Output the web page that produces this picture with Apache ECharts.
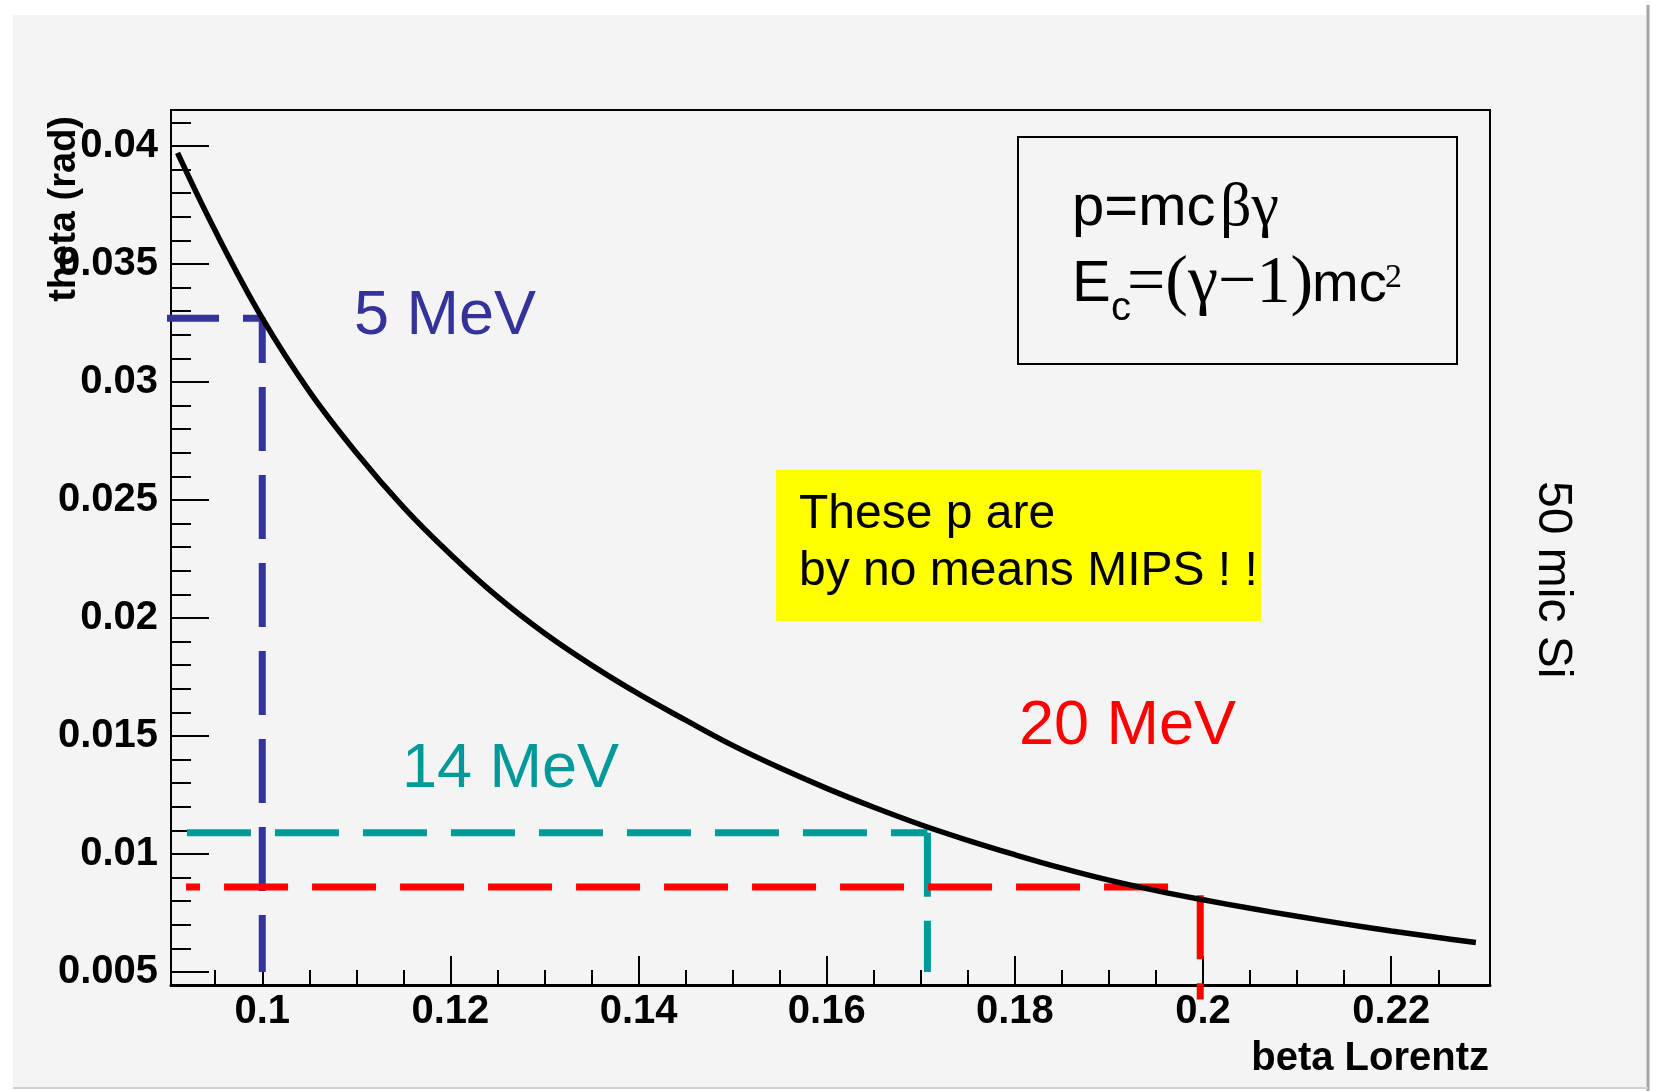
<!DOCTYPE html>
<html>
<head>
<meta charset="utf-8">
<title>theta vs beta Lorentz</title>
<script src="https://cdn.jsdelivr.net/npm/echarts@6/dist/echarts.min.js"></script>
<style>
  html, body { margin: 0; padding: 0; background: #fff; }
  #chart { width: 1658px; height: 1091px; }
</style>
</head>
<body>
<div id="chart"></div>
<script>
// scattering angle of protons in 50 mic Si
const beta = [0.091, 0.095, 0.1, 0.105, 0.11, 0.115, 0.12, 0.125, 0.13, 0.135,
  0.14, 0.145, 0.15, 0.155, 0.16, 0.165, 0.17, 0.175, 0.18, 0.185,
  0.19, 0.195, 0.2, 0.205, 0.21, 0.215, 0.22, 0.225, 0.229];
const theta = [0.0397, 0.0364, 0.0327, 0.0296, 0.0270, 0.0247, 0.0227, 0.0209, 0.01935, 0.0180,
  0.01678, 0.01567, 0.0146, 0.01365, 0.01278, 0.01198, 0.01124, 0.01058, 0.00997, 0.0094,
  0.00889, 0.00845, 0.00806, 0.0077, 0.00736, 0.00704, 0.00674, 0.00646, 0.00625];

// guide lines for the three energies
const guide5 = [[0.0886, 0.0327], [0.1, 0.0327], [0.1, 0.005]];
const guide14H = [[0.0920, 0.0109], [0.1707, 0.0109]];
const guide14V = [[0.1707, 0.0109], [0.1707, 0.005]];
const guide20H = [[0.0919, 0.0086], [0.1963, 0.0086]];
const guide20V = [[0.1997, 0.00825], [0.1997, 0.00384]];

// ticks
const xMajor = [0.1, 0.12, 0.14, 0.16, 0.18, 0.2, 0.22];
const xMinor = [0.095, 0.105, 0.11, 0.115, 0.125, 0.13, 0.135, 0.145, 0.15, 0.155,
  0.165, 0.17, 0.175, 0.185, 0.19, 0.195, 0.205, 0.21, 0.215, 0.225];
const yMajor = [0.005, 0.01, 0.015, 0.02, 0.025, 0.03, 0.035, 0.04];
const yMinor = [0.006, 0.007, 0.008, 0.009, 0.011, 0.012, 0.013, 0.014, 0.016, 0.017,
  0.018, 0.019, 0.021, 0.022, 0.023, 0.024, 0.026, 0.027, 0.028, 0.029,
  0.031, 0.032, 0.033, 0.034, 0.036, 0.037, 0.038, 0.039, 0.041];

const xMin = 0.0903, xMax = 0.2305;
const yMin = 0.00445, yMax = 0.04152;

const sans = 'Liberation Sans';
const serif = 'Liberation Serif';
const tickFont = { color: '#000', fontSize: 40, fontWeight: 'bold', fontFamily: sans };

const guide = (data, color, offset) => ({
  type: 'line', data: data, symbol: 'none', clip: false, z: 3,
  lineStyle: { color: color, width: 7, type: [64, 24], dashOffset: offset || 0, cap: 'butt' }
});

const txt = (x, y, text, size, color, family, extra) => Object.assign({
  type: 'text', x: x, y: y, z: 10,
  style: { text: text, fill: color, fontSize: size, fontFamily: family || sans, align: 'left', verticalAlign: 'middle' }
}, extra || {});

const chart = echarts.init(document.getElementById('chart'));
chart.setOption({
  animation: false,
  backgroundColor: '#fff',
  grid: {
    left: 171, top: 110, width: 1319, height: 875,
    show: true, borderColor: '#000', borderWidth: 2, backgroundColor: 'transparent',
    outerBoundsMode: 'none'
  },
  xAxis: [{
    type: 'value', min: xMin, max: xMax,
    axisLine: { show: true, onZero: false, lineStyle: { color: '#000', width: 3 } },
    axisTick: { show: true, inside: true, length: 29, customValues: xMajor, lineStyle: { color: '#000', width: 2 } },
    axisLabel: Object.assign({ show: true, customValues: xMajor, margin: 7 }, tickFont),
    splitLine: { show: false }
  }, {
    type: 'value', min: xMin, max: xMax, position: 'bottom',
    axisLine: { show: false, onZero: false },
    axisTick: { show: true, inside: true, length: 15, customValues: xMinor, lineStyle: { color: '#000', width: 2 } },
    axisLabel: { show: false },
    splitLine: { show: false }
  }],
  yAxis: [{
    type: 'value', min: yMin, max: yMax,
    axisLine: { show: true, onZero: false, lineStyle: { color: '#000', width: 2 } },
    axisTick: { show: true, inside: true, length: 38, customValues: yMajor, lineStyle: { color: '#000', width: 2 } },
    axisLabel: Object.assign({ show: true, customValues: yMajor, margin: 13 }, tickFont),
    splitLine: { show: false }
  }, {
    type: 'value', min: yMin, max: yMax, position: 'left',
    axisLine: { show: false, onZero: false },
    axisTick: { show: true, inside: true, length: 20, customValues: yMinor, lineStyle: { color: '#000', width: 2 } },
    axisLabel: { show: false },
    splitLine: { show: false }
  }],
  series: [
    guide(guide5, '#333399'),
    guide(guide14H, '#009999'),
    guide(guide14V, '#009999'),
    guide(guide20H, '#ff0000', 50),
    guide(guide20V, '#ff0000'),
    {
      type: 'line', data: beta.map((b, i) => [b, theta[i]]),
      symbol: 'none', smooth: 0.4, z: 4,
      lineStyle: { color: '#000', width: 5.5 }
    }
  ],
  graphic: [
    // pad background and its edges
    { type: 'rect', z: -10, shape: { x: 13, y: 15, width: 1633, height: 1072 }, style: { fill: '#f4f4f4' } },
    { type: 'line', z: -9, shape: { x1: 1648, y1: 5, x2: 1648, y2: 1091 }, style: { stroke: '#a4a4a4', lineWidth: 3 } },
    { type: 'line', z: -9, shape: { x1: 13, y1: 1088, x2: 1648, y2: 1088 }, style: { stroke: '#cfcfcf', lineWidth: 2 } },

    // axis titles
    { type: 'text', x: 65, y: 116, rotation: Math.PI / 2,
      style: { text: 'theta (rad)', fill: '#000', fontSize: 38, fontWeight: 'bold', fontFamily: sans, align: 'right', verticalAlign: 'middle' } },
    { type: 'text', x: 1489, y: 1059,
      style: { text: 'beta Lorentz', fill: '#000', fontSize: 40, fontWeight: 'bold', fontFamily: sans, align: 'right', verticalAlign: 'middle' } },
    { type: 'text', x: 1552, y: 481, rotation: -Math.PI / 2,
      style: { text: '50 mic Si', fill: '#000', fontSize: 48, fontFamily: sans, align: 'left', verticalAlign: 'middle' } },

    // energy labels
    txt(354, 317, '5 MeV', 63, '#333399'),
    txt(402, 770, '14 MeV', 63, '#009999'),
    txt(1019, 727, '20 MeV', 63, '#ff0000'),

    // yellow note
    { type: 'rect', z: 5, shape: { x: 776, y: 470, width: 485, height: 151 }, style: { fill: '#ffff00' } },
    txt(799, 515, 'These p are', 48, '#000'),
    txt(799, 572, 'by no means MIPS ! !', 48, '#000'),

    // formula box
    { type: 'rect', z: 5, shape: { x: 1018, y: 137, width: 439, height: 227 }, style: { fill: 'none', stroke: '#000', lineWidth: 2 } },
    txt(1072, 209, 'p=mc', 58, '#000'),
    txt(1220, 209, 'βγ', 62, '#000', serif),
    txt(1072, 285, 'E', 58, '#000'),
    txt(1111, 309, 'c', 40, '#000'),
    txt(1127, 284, '=(γ−1)', 68, '#000', serif),
    txt(1312, 286, 'mc', 56, '#000'),
    txt(1385, 278, '2', 34, '#000', serif)
  ]
});
</script>
</body>
</html>
